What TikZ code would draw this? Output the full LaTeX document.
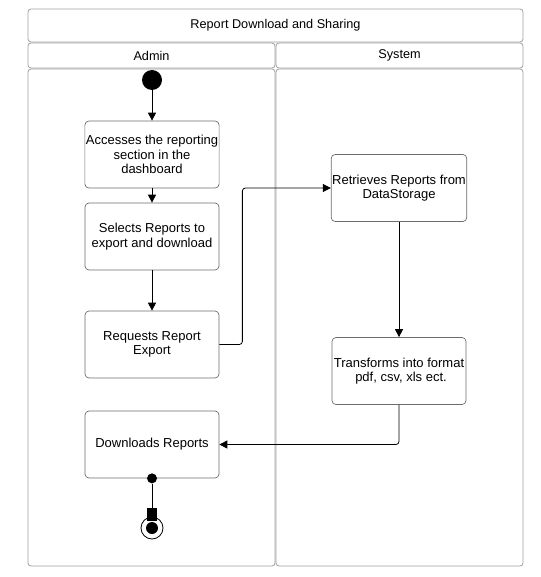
\documentclass[tikz,border=0pt]{standalone}
\usepackage{fontspec}
\setmainfont{Liberation Sans}
\usetikzlibrary{arrows.meta}

\tikzset{
  lane/.style={draw=gray!75, rounded corners=3pt, line width=0.8pt, inner sep=0pt,
    font=\fontsize{12.7}{14}\selectfont},
  action/.style={draw=gray!85!black, rounded corners=4pt, line width=0.7pt,
    minimum width=134pt, minimum height=67pt, align=center, inner sep=1pt,
    font=\fontsize{13}{14.5}\selectfont},
  flow/.style={-{Triangle[length=8pt,width=8pt]}, line width=0.8pt, rounded corners=3pt},
  dot/.style={circle, fill, inner sep=0pt},
}

\begin{document}
\begin{tikzpicture}[x=1pt,y=-1pt]
    \useasboundingbox (0,0) rectangle (540,577);
    % pools and lanes
    \node[lane, minimum width=495pt, minimum height=33pt] (title) at (275.5,25.5) {Report Download and Sharing};
    \node[lane, minimum width=247pt, minimum height=25pt] (admin) at (151.5,55.5) {Admin};
    \node[lane, minimum width=247pt, minimum height=25pt] (system) at (399.5,55.5) {System};
    \node[lane, minimum width=247pt, minimum height=497pt] (adminlane) at (151.5,317.5) {};
    \node[lane, minimum width=247pt, minimum height=497pt] (systemlane) at (399.5,317.5) {};

    % admin actions
    \node[dot, minimum size=20pt] (start) at (152,80) {};
    \node[action] (access) at (152,154.5) {Accesses the reporting\\section in the\\dashboard};
    \node[action] (select) at (152,236.5) {Selects Reports to\\export and download};
    \node[action] (request) at (152,344.5) {Requests Report\\Export};
    \node[action] (download) at (152,444.5) {Downloads Reports};

    % system actions
    \node[action] (retrieve) at (399,188) {Retrieves Reports from\\DataStorage};
    \node[action] (transform) at (399,371) {Transforms into format\\\hspace*{4pt}pdf, csv, xls ect.};

    % final node
    \node[dot, minimum size=10pt] (srcdot) at (download.south) {};
    \node[circle, draw, line width=0.8pt, minimum size=22pt, inner sep=0pt] (end) at (152,528) {};
    \node[dot, minimum size=12pt] (endin) at (end.center) {};
    \node[fill, minimum width=10pt, minimum height=13pt, inner sep=0pt] (endtip) at (152,514.5) {};

    % flows
    \draw[flow] (start) -- (access);
    \draw[flow] (access) -- (select);
    \draw[flow] (select) -- (request);
    \draw[flow] (request.east) -- ++(23,0) |- (retrieve.west);
    \draw[flow] (retrieve) -- (transform);
    \draw[flow] (transform.south) |- (download.east);
    \draw[line width=0.8pt] (srcdot) -- (endtip);
\end{tikzpicture}
\end{document}
